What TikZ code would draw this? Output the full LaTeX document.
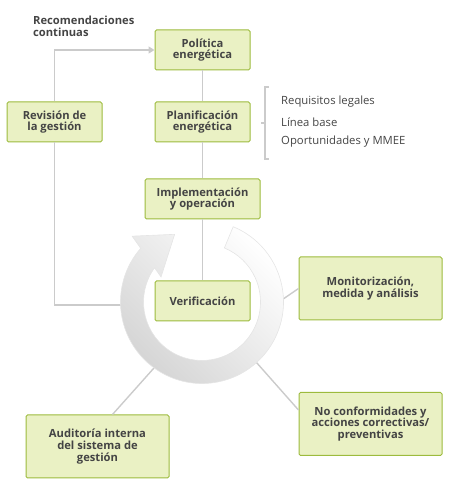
\documentclass[tikz,border=0pt]{standalone}
\usepackage{fontspec}
\setmainfont{Open Sans}
\usetikzlibrary{
    arrows.meta,
    calc,
    positioning
}
\definecolor{boxfill}{HTML}{EAF1C4}
\definecolor{boxline}{HTML}{9DBB3D}
\definecolor{textgray}{HTML}{444444}
\definecolor{linegray}{HTML}{CBCBCB}

\begin{document}
\begin{tikzpicture}[
    x=1pt, y=1pt,
    greenbox/.style  = {rectangle, draw=boxline, fill=boxfill, line width=1pt,
                        rounded corners=1.5pt, minimum width=95pt,
                        minimum height=40pt, inner sep=2pt, align=center,
                        text=textgray,
                        font=\fontsize{11.2}{11.8}\selectfont\bfseries},
    widebox/.style   = {greenbox, minimum width=143pt, minimum height=63pt},
    link/.style      = {draw=linegray, line width=1.4pt},
    itemtext/.style  = {anchor=west, inner sep=0pt, text=textgray,
                        font=\fontsize{11.3}{12}\selectfont},
]
    \useasboundingbox (0,0) rectangle (451,491);

    %Nodes
    \node[greenbox]  (politica)     at (202.5,441) {Política\\energética};
    \node[greenbox]  (planif)       at (202.5,369) {Planificación\\energética};
    \node[greenbox]  (revision)     at (54.5,369)  {Revisión de\\la gestión};
    \node[greenbox, minimum width=115pt]
                     (implem)       at (202.5,292) {Implementación\\y operación};
    \node[greenbox]  (verif)        at (202.5,190) {Verificación};
    \node[widebox]   (monitor)      at (370.5,202.5) {Monitorización,\\medida y análisis};
    \node[widebox]   (noconf)       at (370.5,67)  {No conformidades y\\acciones correctivas/\\preventivas};
    \node[widebox]   (auditoria)    at (97.5,44.5) {Auditoría interna\\del sistema de\\gestión};

    \node[anchor=north west, align=left, inner sep=0pt, text=textgray,
          font=\fontsize{11.2}{11.8}\selectfont\bfseries]
                     (recomend)     at (33,475)    {Recomendaciones\\continuas};

    \node[itemtext]  (requisitos)   at (281,389)   {Requisitos legales};
    \node[itemtext]  (lineabase)    at (281,369)   {Línea base};
    \node[itemtext]  (oportunid)    at (281,349)   {Oportunidades y MMEE};

    %Ring points
    \coordinate (ringcenter) at (202,189);
    \coordinate (ringW)  at ($(ringcenter)+(182:81)$);
    \coordinate (ringE)  at ($(ringcenter)+(2:81)$);
    \coordinate (ringSE) at ($(ringcenter)+(-48:81)$);
    \coordinate (ringSW) at ($(ringcenter)+(-126:81)$);

    %Lines
    \draw[link] (politica.south) -- (planif.north);
    \draw[link] (planif.south) -- (implem.north);
    \draw[link] (implem.south) -- (verif.north);
    \draw[link, -{Triangle[length=6pt, width=7pt]}]
                (revision.north) |- (politica.west);
    \draw[link] (revision.south) |- (ringW);
    \draw[link] (ringE) -- (monitor.west);
    \draw[link] (ringSE) -- ([yshift=14pt]noconf.west);
    \draw[link] (ringSW) -- ([xshift=15pt]auditoria.north);

    %Bracket
    \draw[link] (269,404) -- (265,404) -- (265,332) -- (269,332);
    \draw[link] (261,368) -- (265,368);

    %Ring arrow
    \shade[top color=white, bottom color=black!17, shading angle=-45,
           draw=black!10, line width=0.6pt]
        ($(ringcenter)+(67.5:81.5)$)
        arc[start angle=67.5, end angle=-221.2, radius=81.5]
        -- ($(ringcenter)+(136.7:96)$)
        -- ($(ringcenter)+(112:73)$)
        -- ($(ringcenter)+(148.6:48)$)
        -- ($(ringcenter)+(144.2:58.5)$)
        arc[start angle=-215.8, end angle=67.5, radius=58.5]
        -- cycle;
\end{tikzpicture}
\end{document}
